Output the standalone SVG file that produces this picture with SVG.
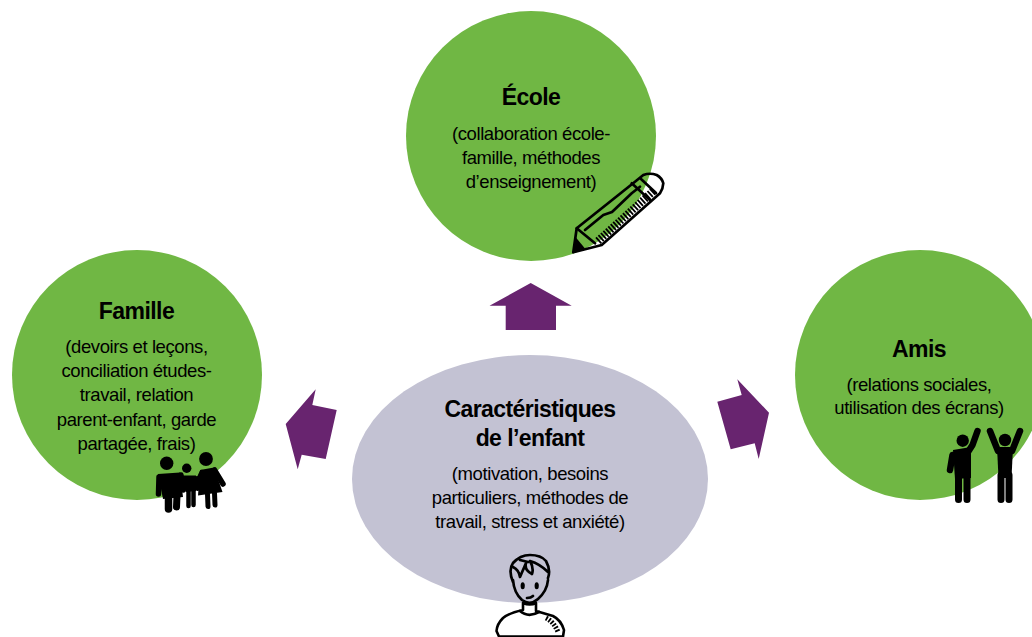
<svg xmlns="http://www.w3.org/2000/svg" width="1032" height="637" viewBox="0 0 1032 637">
<style>
text{font-family:"Liberation Sans",Arial,sans-serif;text-anchor:middle;fill:#000}
.t{font-size:23px;font-weight:700;letter-spacing:-.57px}
.b{font-size:18.5px;letter-spacing:-.41px}
.g{fill:#70b744}
.a{fill:#68246f}
.k{fill:#000;stroke:none}
.l{fill:none;stroke:#000;stroke-width:2.700;stroke-linecap:round;stroke-linejoin:round}
.s{fill:none;stroke:#000;stroke-linecap:round;stroke-linejoin:round}
.h{fill:none;stroke:#000;stroke-dasharray:1.800 1.500}
</style>
<defs>
<clipPath id="pc"><circle cx="531" cy="136" r="125"/></clipPath>
</defs>
<rect width="1032" height="637" fill="#fff"/>
<g id="connectors">
<polygon class="a" points="530.7,283 571.7,305.7 556,305.7 556,330 505.7,330 505.7,305.7 489.5,305.7"/>
<polygon class="a" points="315.7,389.3 312.3,405 336.7,410 325.7,459 301.7,454.7 297.7,469.3 285.7,424"/>
<polygon class="a" points="737.3,379.3 741.7,395 717.3,401.7 730.7,449.3 754.7,443.3 758.7,459 769,412.7"/>
</g>
<g id="ecole">
<circle class="g" cx="531" cy="136" r="125"/>
<text class="t" x="531" y="105">École</text>
<text class="b" x="531" y="140">(collaboration école-</text>
<text class="b" x="531" y="164">famille, méthodes</text>
<text class="b" x="531" y="188">d’enseignement)</text>
<path fill="#fff" d="M576.7,228.300 L635,181.700 L643.300,175 L656.700,175 L663.300,183.300 L660,193.300 L601.700,245 L595,246.700 L573.300,252.300 Z"/>
<path class="g" clip-path="url(#pc)" d="M576.700,228.300 L635,181.700 L643.300,175 L656.700,175 L663.300,183.300 L660,193.300 L601.700,245 L595,246.700 L573.300,252.300 Z"/>
<path class="l" d="M576.700,228.300 L635,181.700 L643.300,175 Q650,172.500 656.700,175 Q662,178 663.300,183.300 Q663,189 660,193.300 L601.700,245 L595,246.700 L573.300,252.300 Z"/>
<path class="l" d="M576.700,228.300 L595,243.300 M585,230 L603.300,215 L612,212 L631.700,193.300 L640,186.700 M631.700,183.300 L650,200 M641,179 L656,193"/>
<path class="k" d="M573.300,252.300 L575.500,237 L585,248.500 Z"/>
<path class="h" stroke-width="8" d="M598,241 L654,190.500"/>
</g>
<g id="famille">
<circle class="g" cx="137" cy="375" r="125"/>
<text class="t" x="136.500" y="319">Famille</text>
<text class="b" x="136.500" y="353">(devoirs et leçons,</text>
<text class="b" x="136.500" y="377">conciliation études-</text>
<text class="b" x="136.500" y="401">travail, relation</text>
<text class="b" x="136.500" y="426">parent-enfant, garde</text>
<text class="b" x="136.500" y="450">partagée, frais)</text>
<circle class="k" cx="166.700" cy="463.300" r="6.700"/>
<circle class="k" cx="186.700" cy="468.300" r="4.700"/>
<circle class="k" cx="206" cy="459" r="6.900"/>
<polygon class="k" points="158,474 180,472.500 183,497 163,499"/>
<path class="s" stroke-width="7.500" d="M168.500,497 L168.500,509"/>
<path class="s" stroke-width="7" d="M177,495 L176.500,507"/>
<path class="s" stroke-width="5.500" d="M159,477 L158.500,494 M181,475 L183,490"/>
<polygon class="k" points="183,475.500 196,475.500 196,491 186,492"/>
<path class="s" stroke-width="4.500" d="M188.500,491 L188.500,506 M193.500,490 L193.500,505"/>
<path class="s" stroke-width="4" d="M184,478 L184,490 M197,478 L197.500,489"/>
<polygon class="k" points="200,470 214,467.500 222.500,492 198,495.500"/>
<path class="s" stroke-width="5.500" d="M214.500,470 L223,484 M202,472.500 L196,486"/>
<path class="s" stroke-width="5" d="M207.500,494 L208,506.500 M214.500,493 L215,505"/>
</g>
<g id="amis">
<circle class="g" cx="920" cy="375" r="125"/>
<text class="t" x="919" y="357">Amis</text>
<text class="b" x="919" y="391">(relations sociales,</text>
<text class="b" x="919" y="414">utilisation des écrans)</text>
<circle class="k" cx="962.700" cy="440.700" r="6.200"/>
<circle class="k" cx="1005" cy="440" r="6.200"/>
<polygon class="k" points="953,450 971,447 971,478 955,479"/>
<path class="s" stroke-width="6.500" d="M968,452 L972.500,445 L977.500,431 M952.500,455 L950,470"/>
<path class="s" stroke-width="7" d="M958.500,475 L958.500,499.500 M967,475 L967,499.500"/>
<polygon class="k" points="997,447 1013,447 1011.500,478 998.500,478"/>
<path class="s" stroke-width="6.500" d="M990,431 L998,451 M1020,431 L1012,451"/>
<path class="s" stroke-width="7" d="M1001,475 L1001,499.500 M1009,475 L1009,499.500"/>
</g>
<g id="enfant">
<ellipse cx="530" cy="479" rx="178" ry="124" fill="#c3c2d3"/>
<text class="t" x="530" y="417">Caractéristiques</text>
<text class="t" x="530" y="446">de l’enfant</text>
<text class="b" x="530" y="480">(motivation, besoins</text>
<text class="b" x="530" y="504">particuliers, méthodes de</text>
<text class="b" x="530" y="528">travail, stress et anxiété)</text>
<path fill="#fff" stroke="#000" stroke-width="2.600" stroke-linejoin="round" stroke-linecap="round" d="M523,603 L523,610 Q509,613 503,618 Q497,624 496.500,631 L499,636.500 L563,636.500 L564,630 Q561,620 553,616 L536,611 L536,603 Q530,606 523,603 Z"/>
<path class="l" d="M520,611 Q528,618 539,612"/>
<path class="l" d="M513,580 Q514,593 522,600 Q530,606 538,599 Q547,591 548,580 M513,582 Q508,570 513,563 Q520,555 530,555 Q541,555 546,561 Q551,570 548,578 M513,567 Q519,570 520,577 Q523,570 526,563 Q524,570 532,574 Q534,568 530,561 Q540,564 548,572 M520,560 L528,562"/>
<ellipse class="k" cx="522.700" cy="585.700" rx="2.100" ry="3.500"/>
<ellipse class="k" cx="536.700" cy="585.700" rx="2.100" ry="3.500"/>
<path class="l" stroke-width="1.500" d="M527,598 Q531,598 533,596"/>
<path class="h" stroke-width="5" d="M546,618 Q554,622 558,632"/>
</g>
</svg>
